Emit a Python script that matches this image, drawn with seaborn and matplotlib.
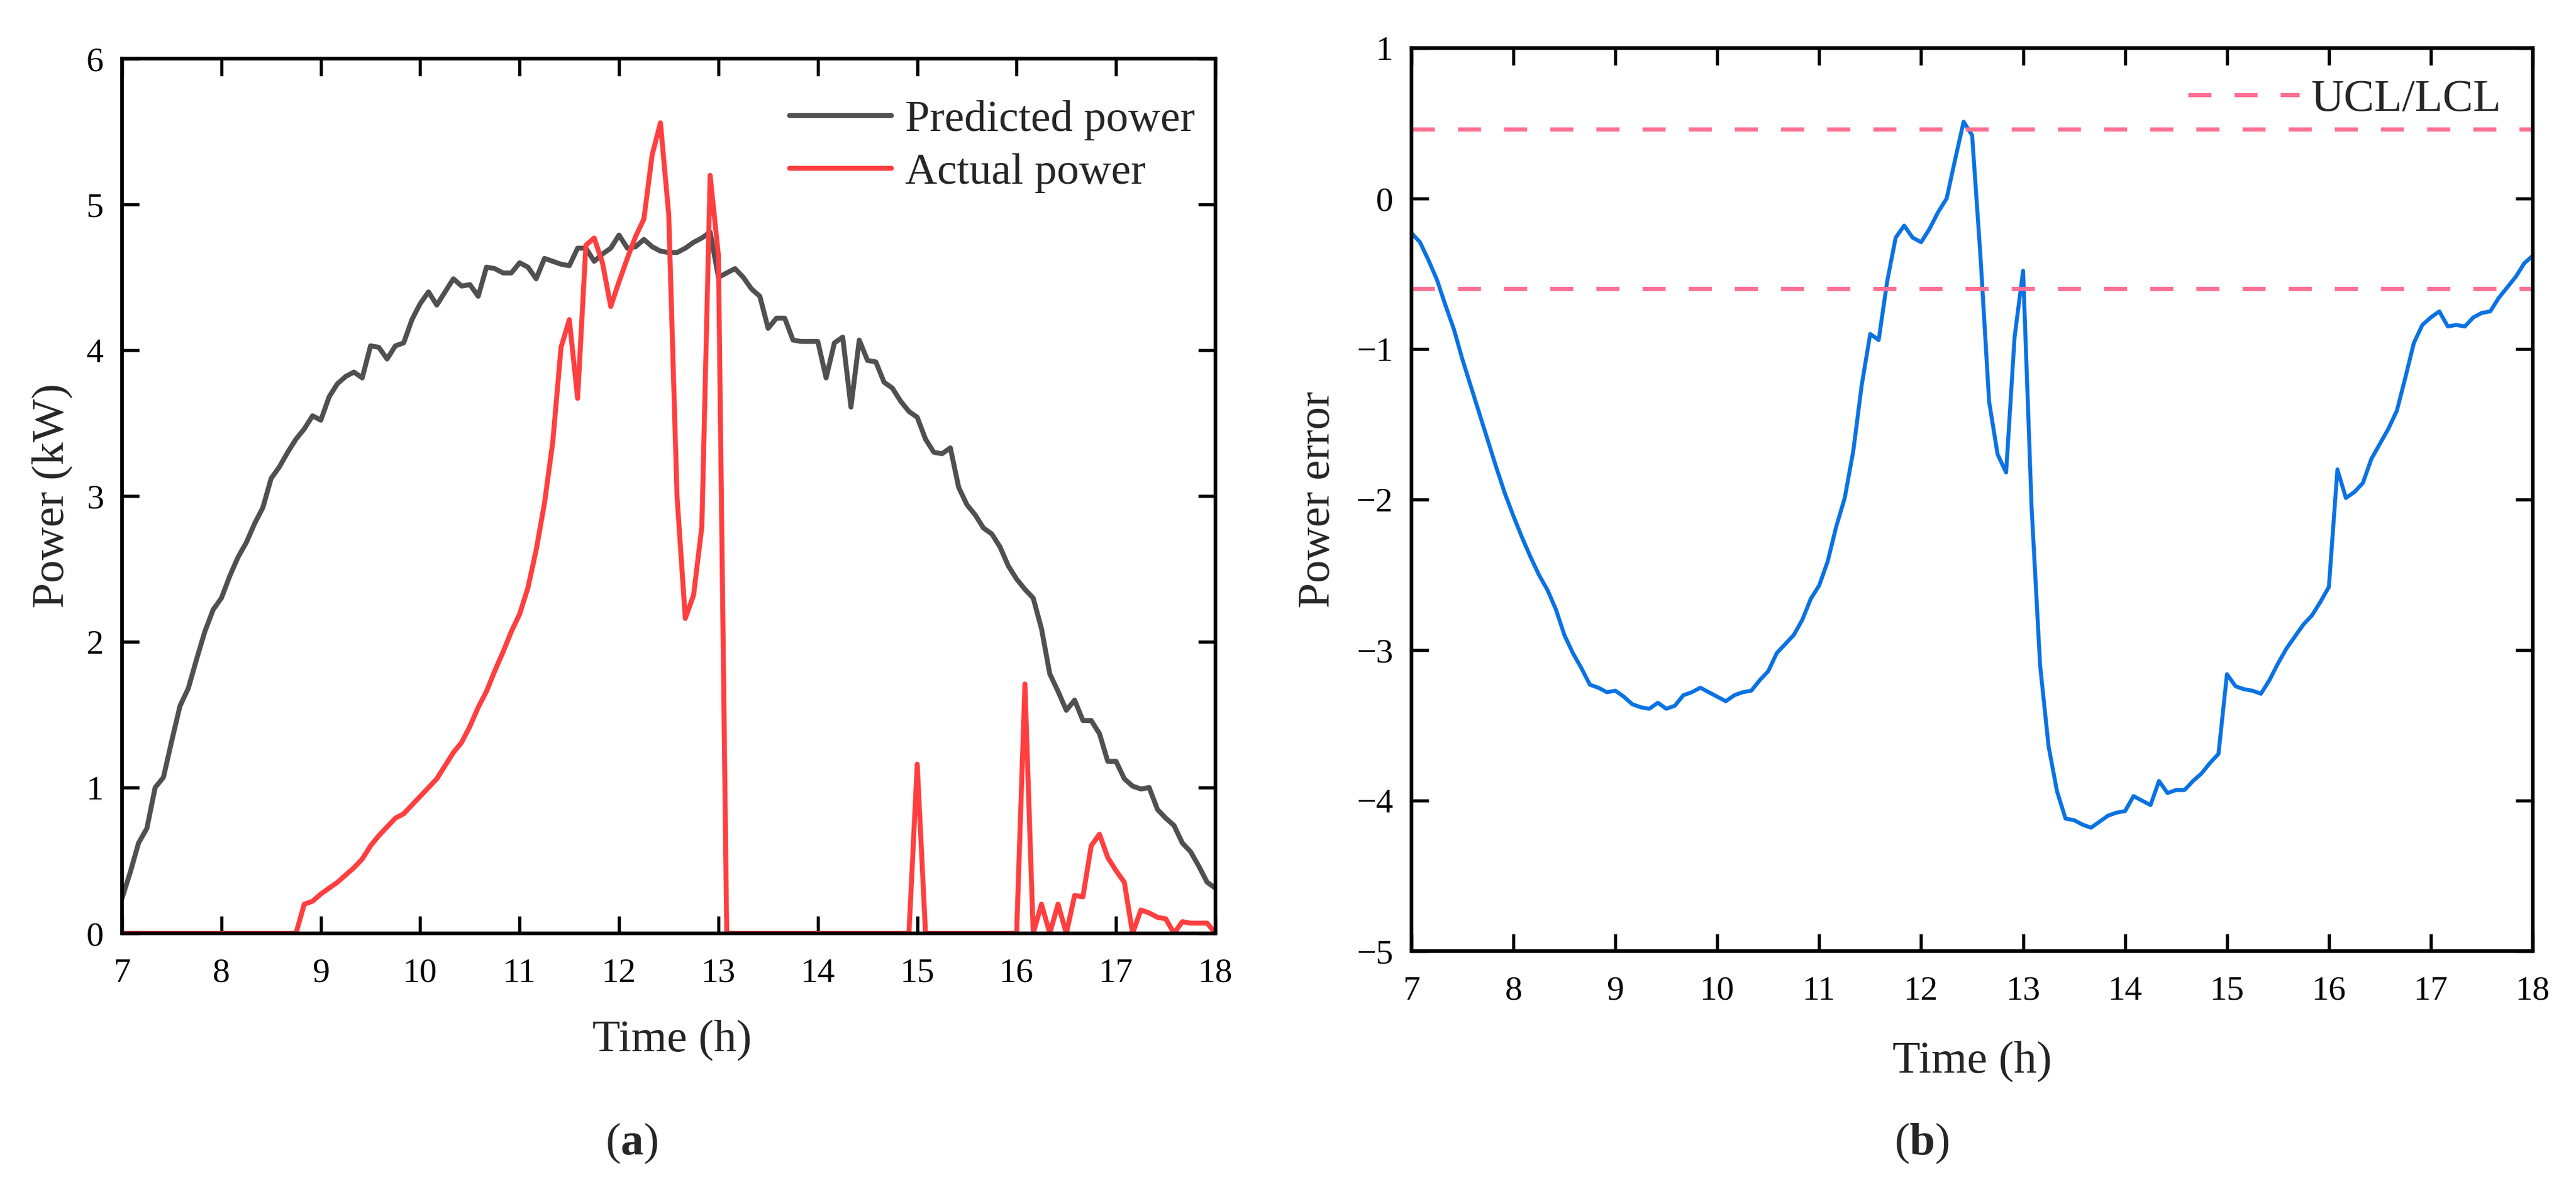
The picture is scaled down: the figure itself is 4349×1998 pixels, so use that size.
import numpy as np
import matplotlib
matplotlib.use("Agg")
import matplotlib.pyplot as plt
import seaborn as sns

# === Data (5-minute samples, 7:00 to 18:00) ===
time_h = 7 + np.arange(133) / 12

predicted_power = [
    0.24, 0.42, 0.62, 0.72, 1.00, 1.07, 1.32, 1.56, 1.68, 1.88,
    2.07, 2.22, 2.30, 2.45, 2.58, 2.68, 2.81, 2.92, 3.12, 3.20,
    3.30, 3.39, 3.46, 3.55, 3.52, 3.68, 3.77, 3.82, 3.85, 3.81,
    4.03, 4.02, 3.94, 4.03, 4.05, 4.21, 4.32, 4.40, 4.31, 4.40,
    4.49, 4.44, 4.45, 4.37, 4.57, 4.56, 4.53, 4.53, 4.60, 4.57,
    4.49, 4.63, 4.61, 4.59, 4.58, 4.70, 4.70, 4.61, 4.66, 4.70,
    4.79, 4.70, 4.71, 4.76, 4.71, 4.68, 4.67, 4.67, 4.70, 4.74,
    4.77, 4.81, 4.50, 4.53, 4.56, 4.50, 4.42, 4.37, 4.15, 4.22,
    4.22, 4.07, 4.06, 4.06, 4.06, 3.81, 4.05, 4.09, 3.61, 4.07,
    3.93, 3.92, 3.78, 3.74, 3.65, 3.58, 3.54, 3.39, 3.30, 3.29,
    3.33, 3.06, 2.94, 2.87, 2.78, 2.74, 2.65, 2.52, 2.43, 2.36,
    2.30, 2.09, 1.78, 1.66, 1.53, 1.60, 1.46, 1.46, 1.37, 1.18,
    1.18, 1.06, 1.01, 0.99, 1.00, 0.85, 0.79, 0.74, 0.62, 0.56,
    0.46, 0.35, 0.31,
]

actual_power = (
    [0.0] * 22
    + [0.20, 0.22, 0.27, 0.31, 0.35, 0.40, 0.45, 0.51,
       0.60, 0.67, 0.73, 0.79, 0.82, 0.88, 0.94, 1.00, 1.06, 1.15,
       1.24, 1.31, 1.42, 1.55, 1.66, 1.80, 1.93, 2.07, 2.19, 2.37,
       2.63, 2.95, 3.37, 4.02, 4.21, 3.67, 4.72, 4.77, 4.60, 4.30,
       4.47, 4.63, 4.78, 4.90, 5.34, 5.56, 4.93, 3.00, 2.16, 2.32,
       2.79, 5.20, 4.65]
    + [0.0] * 23
    + [1.16]
    + [0.0] * 12
    + [1.71, 0.0,
       0.20, 0.0, 0.20, 0.0, 0.26, 0.25, 0.60, 0.68, 0.52, 0.43, 0.35,
       0.0, 0.16, 0.14, 0.11, 0.10,
       0.0, 0.08, 0.07, 0.07, 0.07, 0.0]
)

power_error = [
    -0.23, -0.29, -0.41, -0.54, -0.71, -0.87, -1.07, -1.25, -1.43, -1.61,
    -1.79, -1.96, -2.11, -2.25, -2.38, -2.50, -2.60, -2.73, -2.90, -3.02,
    -3.12, -3.23, -3.25, -3.28, -3.27, -3.31, -3.36, -3.38, -3.39, -3.35,
    -3.39, -3.37, -3.30, -3.28, -3.25, -3.28, -3.31, -3.34, -3.30, -3.28,
    -3.27, -3.20, -3.14, -3.02, -2.96, -2.90, -2.80, -2.66, -2.57, -2.41,
    -2.18, -1.99, -1.68, -1.24, -0.90, -0.94, -0.55, -0.26, -0.18, -0.26,
    -0.29, -0.20, -0.09, 0.00, 0.26, 0.51, 0.42, -0.40, -1.35, -1.70,
    -1.82, -0.92, -0.48, -2.05, -3.10, -3.64, -3.94, -4.12, -4.13, -4.16,
    -4.18, -4.14, -4.10, -4.08, -4.07, -3.97, -4.00, -4.03, -3.87, -3.95,
    -3.93, -3.93, -3.87, -3.82, -3.75, -3.69, -3.16, -3.24, -3.26, -3.27,
    -3.29, -3.20, -3.09, -2.99, -2.91, -2.83, -2.77, -2.68, -2.58, -1.80,
    -1.99, -1.95, -1.89, -1.73, -1.63, -1.53, -1.41, -1.19, -0.96, -0.84,
    -0.79, -0.75, -0.85, -0.84, -0.85, -0.79, -0.76, -0.75, -0.66, -0.59,
    -0.52, -0.43, -0.38,
]

ucl = 0.46
lcl = -0.60

x_ticks = list(range(7, 19))
power_ticks = [0, 1, 2, 3, 4, 5, 6]
error_ticks = [-5, -4, -3, -2, -1, 0, 1]

# === Style ===
sns.set_theme(style="ticks")
plt.rcParams["font.family"] = ["Liberation Serif", "DejaVu Serif"]
plt.rcParams["mathtext.fontset"] = "custom"
plt.rcParams["mathtext.rm"] = "Liberation Serif"
plt.rcParams["mathtext.bf"] = "Liberation Serif:bold"
plt.rcParams["axes.unicode_minus"] = True

W, H = 4349, 1998
fig = plt.figure(figsize=(W / 300, H / 300), dpi=300)

ax1 = fig.add_axes([206 / W, 1 - 1575 / H, (2052 - 206) / W, (1575 - 99) / H])
ax2 = fig.add_axes([2383 / W, 1 - 1605 / H, (4276 - 2383) / W, (1605 - 81) / H])


def style_axes(ax):
    for sp in ax.spines.values():
        sp.set_linewidth(1.5)
        sp.set_color("black")
        sp.set_visible(True)
    ax.tick_params(axis="both", direction="in", top=True, right=True,
                   length=7, width=1.3, labelsize=14, colors="black")
    ax.tick_params(axis="x", pad=10)
    ax.tick_params(axis="y", pad=7.5)
    ax.set_xlim(7, 18)
    ax.set_xticks(x_ticks)


# (a) predicted vs actual power
sns.lineplot(x=time_h, y=predicted_power, ax=ax1, color="#505050",
             linewidth=2.0, label="Predicted power")
sns.lineplot(x=time_h, y=actual_power, ax=ax1, color="#ff3f3f",
             linewidth=2.0, label="Actual power")
style_axes(ax1)
ax1.set_ylim(0, 6)
ax1.set_yticks(power_ticks)
ax1.set_xlabel("Time (h)", fontsize=18.5)
ax1.set_ylabel("Power (kW)", fontsize=18.5)
ax1.xaxis.set_label_coords(0.503, -0.099)
ax1.yaxis.set_label_coords(-0.045, 0.5)
ax1.legend(loc="upper right", bbox_to_anchor=(0.981, 0.953), frameon=False,
           fontsize=18, handlelength=2.3, handletextpad=0.3,
           labelspacing=0.28, borderpad=0, borderaxespad=0)

# (b) power error with control limits
sns.lineplot(x=time_h, y=power_error, ax=ax2, color="#0a72e3", linewidth=1.6)
ax2.axhline(ucl, color="#ff6f91", linewidth=1.7, dashes=(5.5, 5.5),
            label="UCL/LCL")
ax2.axhline(lcl, color="#ff6f91", linewidth=1.7, dashes=(5.5, 5.5))
style_axes(ax2)
ax2.set_ylim(-5, 1)
ax2.set_yticks(error_ticks)
ax2.set_xlabel("Time (h)", fontsize=18.5)
ax2.set_ylabel("Power error", fontsize=18.5)
ax2.xaxis.set_label_coords(0.5, -0.0998)
ax2.yaxis.set_label_coords(-0.065, 0.5)
ax2.legend(loc="upper right", bbox_to_anchor=(0.972, 0.966), frameon=False,
           fontsize=18.5, handlelength=2.45, handletextpad=0.25,
           borderpad=0, borderaxespad=0)

fig.text(1066 / W, 1 - 1929 / H, r"($\mathbf{a}$)", fontsize=18.5,
         ha="center", va="center")
fig.text(3244 / W, 1 - 1929 / H, r"($\mathbf{b}$)", fontsize=18.5,
         ha="center", va="center")

fig.savefig("out.png", dpi=300)
